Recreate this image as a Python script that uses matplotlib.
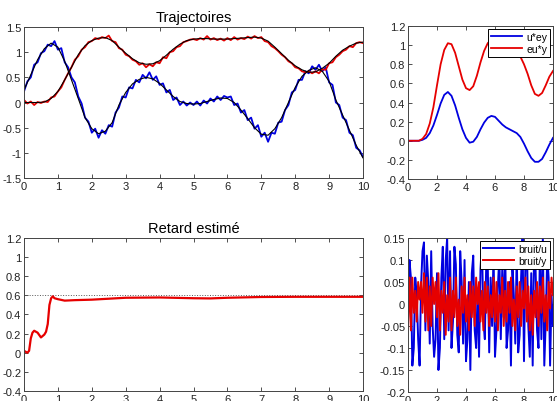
import numpy as np
import matplotlib.pyplot as plt

plt.rcParams['font.family'] = ['Liberation Sans', 'DejaVu Sans']

# time grids
t_fine = np.linspace(0, 10, 101)
t_smooth = np.linspace(0, 10, 51)
t_corr = np.linspace(0, 10, 41)

# reference trajectories (black)
u_ref = [0.25, 0.55, 0.85, 1.07, 1.18, 1.1, 0.82, 0.45, 0.08, -0.3,
         -0.52, -0.62, -0.57, -0.4, -0.05, 0.2, 0.37, 0.46, 0.5, 0.47,
         0.38, 0.25, 0.12, 0.02, -0.02, -0.03, -0.02, 0.02, 0.06, 0.09,
         0.08, 0.0, -0.15, -0.32, -0.5, -0.63, -0.65, -0.52, -0.3, 0.0,
         0.3, 0.52, 0.64, 0.69, 0.62, 0.42, 0.05, -0.25, -0.55, -0.85, -1.1]
y_ref = [0.0, 0.0, 0.0, 0.01, 0.08, 0.22, 0.45, 0.7, 0.95, 1.13,
         1.23, 1.28, 1.29, 1.23, 1.1, 0.98, 0.87, 0.79, 0.76, 0.77,
         0.83, 0.94, 1.06, 1.16, 1.23, 1.26, 1.27, 1.27, 1.26, 1.26,
         1.26, 1.27, 1.28, 1.29, 1.3, 1.28, 1.22, 1.1, 0.97, 0.84,
         0.73, 0.65, 0.6, 0.61, 0.68, 0.78, 0.92, 1.04, 1.12, 1.18, 1.2]

# measured (noisy) trajectories
u_meas = [0.22, 0.42, 0.5, 0.75, 0.8, 0.98, 1.02, 1.15, 1.12, 1.22,
          1.05, 1.08, 0.8, 0.7, 0.5, 0.4, 0.12, -0.02, -0.3, -0.38,
          -0.6, -0.52, -0.7, -0.55, -0.62, -0.45, -0.48, -0.2, -0.1, 0.12,
          0.1, 0.3, 0.28, 0.45, 0.4, 0.55, 0.48, 0.6, 0.45, 0.52,
          0.35, 0.38, 0.2, 0.25, 0.05, 0.1, -0.05, 0.02, -0.06, 0.0,
          -0.05, 0.02, -0.06, 0.04, -0.02, 0.08, 0.02, 0.12, 0.05, 0.13,
          0.1, 0.12, -0.05, -0.02, -0.2, -0.15, -0.35, -0.3, -0.52, -0.45,
          -0.68, -0.6, -0.78, -0.6, -0.62, -0.4, -0.38, -0.15, -0.05, 0.2,
          0.25, 0.45, 0.45, 0.62, 0.58, 0.72, 0.65, 0.75, 0.62, 0.7,
          0.4, 0.35, 0.0, -0.05, -0.3, -0.35, -0.6, -0.65, -0.9, -0.95, -1.08]
y_meas = [0.05, -0.02, 0.02, -0.05, 0.01, -0.01, 0.02, 0.01, 0.1, 0.12,
          0.22, 0.3, 0.45, 0.58, 0.7, 0.85, 0.92, 1.05, 1.1, 1.2,
          1.22, 1.28, 1.26, 1.3, 1.28, 1.33, 1.22, 1.2, 1.08, 1.05,
          0.95, 0.92, 0.85, 0.82, 0.75, 0.78, 0.7, 0.76, 0.72, 0.8,
          0.78, 0.9, 0.88, 1.0, 1.02, 1.1, 1.12, 1.2, 1.22, 1.25,
          1.26, 1.24, 1.28, 1.25, 1.32, 1.25, 1.28, 1.24, 1.27, 1.23,
          1.28, 1.24, 1.3, 1.25, 1.28, 1.26, 1.31, 1.27, 1.32, 1.28,
          1.3, 1.22, 1.2, 1.12, 1.08, 1.02, 0.95, 0.9, 0.82, 0.78,
          0.7, 0.68, 0.62, 0.6, 0.62, 0.58, 0.62, 0.58, 0.66, 0.65,
          0.78, 0.8, 0.9, 0.95, 1.02, 1.05, 1.12, 1.1, 1.18, 1.2, 1.18]

# correlations
u_ey = [0, 0, 0, 0.0, 0.01, 0.03, 0.08, 0.16, 0.27, 0.39, 0.48, 0.51, 0.47,
        0.37, 0.24, 0.12, 0.03, -0.02, -0.01, 0.04, 0.12, 0.19, 0.24, 0.26,
        0.25, 0.21, 0.17, 0.14, 0.12, 0.1, 0.08, 0.04, -0.03, -0.11, -0.18,
        -0.22, -0.22, -0.19, -0.12, -0.04, 0.03]
eu_y = [0, 0, 0, 0.0, 0.02, 0.07, 0.18, 0.35, 0.58, 0.8, 0.95, 1.02, 1.01,
        0.92, 0.78, 0.64, 0.55, 0.53, 0.57, 0.68, 0.82, 0.94, 1.02, 1.06,
        1.08, 1.08, 1.07, 1.04, 1.0, 0.96, 0.92, 0.88, 0.8, 0.7, 0.58,
        0.49, 0.47, 0.5, 0.58, 0.67, 0.73]

# delay estimate
t_ret = [0, 0.1, 0.15, 0.2, 0.25, 0.3, 0.4, 0.5, 0.6, 0.65, 0.7, 0.75, 0.8,
         0.85, 0.9, 1.0, 1.2, 1.5, 2.0, 2.5, 3.0, 4.0, 5.0, 5.5, 6.0, 7.0,
         8.0, 9.0, 10.0]
retard = [0.02, 0.0, 0.02, 0.15, 0.21, 0.23, 0.21, 0.16, 0.19, 0.22, 0.3,
          0.5, 0.57, 0.59, 0.57, 0.56, 0.545, 0.55, 0.555, 0.565, 0.575,
          0.578, 0.57, 0.568, 0.575, 0.583, 0.585, 0.585, 0.585]
retard_vrai = 0.6

# noises
bruit_u = [-0.04, 0.1, 0.06, -0.14, -0.1, 0.06, 0.02, -0.08, -0.14, 0.04,
           0.12, 0.14, -0.06, 0.11, 0.05, -0.09, 0.12, -0.05, -0.12, -0.08,
           0.07, -0.15, -0.1, 0.06, 0.13, -0.08, 0.1, 0.15, -0.06, 0.12,
           -0.1, -0.04, 0.13, 0.09, -0.07, -0.11, 0.12, 0.05, -0.09, 0.1,
           -0.13, -0.08, 0.05, -0.15, 0.07, 0.11, -0.06, -0.1, 0.03, -0.12,
           0.08, 0.14, -0.04, -0.08, 0.1, 0.09, -0.11, 0.06, -0.05, 0.12,
           -0.12, -0.06, 0.04, 0.11, -0.08, 0.08, -0.03, 0.13, -0.1, -0.06,
           0.05, -0.14, 0.09, 0.02, -0.09, 0.12, -0.11, -0.07, 0.06, 0.15,
           -0.13, 0.1, 0.13, -0.05, -0.12, 0.07, -0.14, 0.14, 0.08, -0.06,
           -0.1, 0.12, -0.08, 0.15, -0.14, -0.04, 0.11, 0.06, -0.14, 0.02, -0.05]
bruit_y = [-0.05, 0.06, -0.06, 0.06, -0.02, 0.03, -0.04, 0.05, 0.01, 0.05,
           -0.02, 0.07, -0.04, 0.06, -0.06, 0.04, -0.05, 0.06, 0.0, 0.05,
           -0.03, 0.07, -0.06, 0.03, -0.02, 0.05, -0.07, 0.02, -0.04, 0.06,
           -0.06, 0.03, -0.03, 0.06, -0.05, 0.01, -0.07, 0.04, -0.02, 0.06,
           -0.04, 0.02, -0.06, 0.05, -0.03, 0.04, -0.05, 0.06, 0.0, 0.05,
           -0.04, 0.03, -0.06, 0.05, -0.02, 0.04, -0.05, 0.02, -0.03, 0.06,
           -0.04, 0.05, -0.06, 0.02, -0.02, 0.06, -0.05, 0.03, -0.04, 0.05,
           -0.02, 0.06, -0.05, 0.01, -0.06, 0.04, -0.03, 0.05, -0.05, 0.03,
           -0.01, 0.06, -0.04, 0.04, -0.06, 0.02, -0.07, 0.03, -0.03, 0.05,
           -0.05, 0.04, -0.02, 0.06, -0.04, 0.02, -0.06, 0.05, -0.01, 0.06, 0.02]

BLUE = '#0000e0'
RED = '#e60000'


def matlab_axes(ax, xticks, yticks, ylim):
    ax.set_xlim(0, 10)
    ax.set_ylim(*ylim)
    ax.set_xticks(xticks)
    ax.set_yticks(yticks)
    ax.set_xticklabels([f'{v:g}' for v in xticks])
    ax.set_yticklabels([f'{v:g}' for v in yticks])
    ax.tick_params(direction='in', top=True, right=True, length=3,
                   width=0.6, labelsize=8, pad=2, colors='#333333',
                   labelcolor='#222222')
    for s in ax.spines.values():
        s.set_color('#444444')
        s.set_linewidth(0.7)


def matlab_legend(ax):
    leg = ax.legend(loc='upper right', fontsize=7.5, fancybox=False, framealpha=1,
                    edgecolor='black', handlelength=3.0, borderpad=0.3,
                    labelspacing=0.2, handletextpad=0.4, borderaxespad=0.25)
    leg.get_frame().set_linewidth(0.7)


fig = plt.figure(figsize=(5.57, 4.02), dpi=100)

# Trajectoires
ax1 = fig.add_axes([0.0431, 0.5547, 0.6086, 0.3756])
ax1.plot(t_fine, u_meas, color=BLUE, lw=1.3)
ax1.plot(t_fine, y_meas, color=RED, lw=1.3)
ax1.plot(t_smooth, u_ref, color='black', lw=0.8)
ax1.plot(t_smooth, y_ref, color='black', lw=0.8)
matlab_axes(ax1, range(0, 11), [-1.5, -1, -0.5, 0, 0.5, 1, 1.5], (-1.5, 1.5))
ax1.set_title('Trajectoires', fontsize=10.5, pad=4)

# correlations
ax2 = fig.add_axes([0.7325, 0.5522, 0.2603, 0.3806])
ax2.plot(t_corr, u_ey, color=BLUE, lw=1.3, label='u*ey')
ax2.plot(t_corr, eu_y, color=RED, lw=1.3, label='eu*y')
matlab_axes(ax2, [0, 2, 4, 6, 8, 10], np.round(np.arange(-0.4, 1.21, 0.2), 1), (-0.4, 1.2))
matlab_legend(ax2)

# Retard estime
ax3 = fig.add_axes([0.0431, 0.0249, 0.6086, 0.3806])
ax3.axhline(retard_vrai, color='#555555', lw=0.7, ls=':')
ax3.plot(t_ret, retard, color=RED, lw=1.6)
matlab_axes(ax3, range(0, 11), np.round(np.arange(-0.4, 1.21, 0.2), 1), (-0.4, 1.2))
ax3.set_title('Retard estimé', fontsize=10.5, pad=4)

# bruits
ax4 = fig.add_axes([0.7325, 0.0224, 0.2603, 0.3831])
ax4.plot(t_fine, bruit_u, color=BLUE, lw=1.4, label='bruit/u')
ax4.plot(t_fine, bruit_y, color=RED, lw=1.4, label='bruit/y')
matlab_axes(ax4, [0, 2, 4, 6, 8, 10], [-0.2, -0.15, -0.1, -0.05, 0, 0.05, 0.1, 0.15], (-0.2, 0.15))
matlab_legend(ax4)

plt.savefig('out.png', dpi=100)
